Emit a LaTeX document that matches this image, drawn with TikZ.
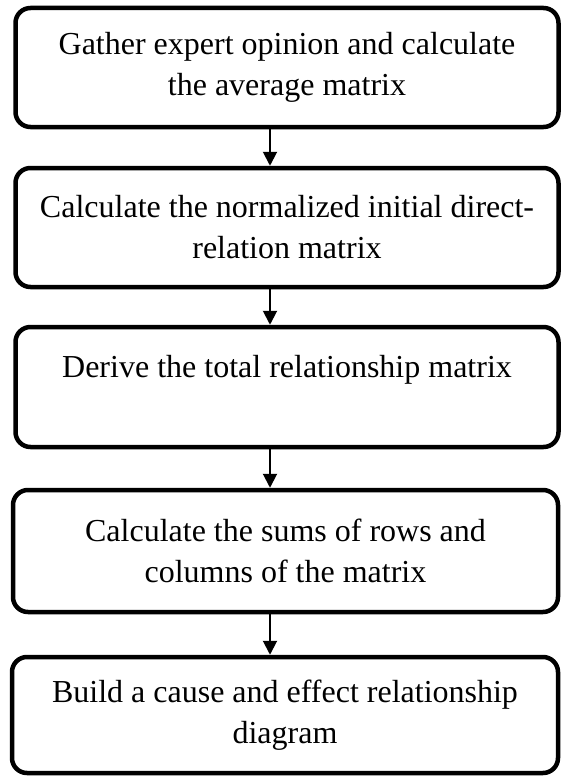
\documentclass[tikz,border=0pt]{standalone}
\usepackage{fontspec}
\setmainfont{Liberation Serif}
\usetikzlibrary{arrows.meta}
\begin{document}
\begin{tikzpicture}[x=1pt,y=1pt,
  stepbox/.style={draw=black, line width=4.5pt, rounded corners=15pt, fill=white,
    inner sep=0pt, align=center,
    font=\fontsize{32}{41}\selectfont},
  flow/.style={draw=black, line width=2pt, -{Triangle[width=14pt,length=14pt]}}]
\useasboundingbox (0,0) rectangle (561,-776);
\node[stepbox, minimum width=543pt, minimum height=119pt] (b1) at (287,-67.5)
  {Gather expert opinion and calculate\\the average matrix};
\node[stepbox, minimum width=543pt, minimum height=119pt] (b2) at (287,-227.5)
  {Calculate the normalized initial direct-\\relation matrix};
\node[stepbox, minimum width=543pt, minimum height=120pt] (b3) at (287,-387)
  {Derive the total relationship matrix\\\mbox{}};
\node[stepbox, minimum width=545pt, minimum height=122pt] (b4) at (285.5,-551)
  {Calculate the sums of rows and\\columns of the matrix};
\node[stepbox, minimum width=546pt, minimum height=116pt] (b5) at (285,-715)
  {Build a cause and effect relationship\\diagram};
\coordinate (ax) at (270,0);
\draw[flow] (b1.south -| ax) -- (b2.north -| ax);
\draw[flow] (b2.south -| ax) -- (b3.north -| ax);
\draw[flow] (b3.south -| ax) -- (b4.north -| ax);
\draw[flow] (b4.south -| ax) -- (b5.north -| ax);
\end{tikzpicture}
\end{document}
